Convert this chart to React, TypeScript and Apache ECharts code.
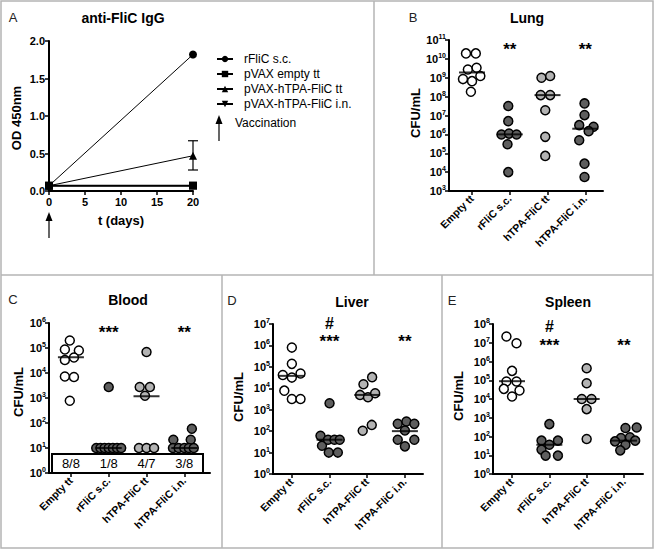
import React, { useEffect, useRef } from "react";
import * as echarts from "echarts";

const FONT = "'Liberation Sans', Arial, Helvetica, sans-serif";

// ---------- Panel A data ----------
const iggNames = ["rFliC s.c.", "pVAX empty tt", "pVAX-hTPA-FliC tt", "pVAX-hTPA-FliC i.n."];
const iggDays = [0, 20];
const iggRflic = [0.07, 1.82];
const iggEmpty = [0.07, 0.07];
const iggHtpaTt = [0.07, 0.47];
const iggHtpaIn = [0.07, 0.07];
const iggHtpaTtErr = [0.28, 0.67]; // at day 20
const iggYTicks = [0, 0.5, 1, 1.5, 2];
const iggXTicks = [0, 5, 10, 15, 20];

// ---------- Scatter panels (log10 CFU/mL) ----------
const categories = ["Empty tt", "rFliC s.c.", "hTPA-FliC tt", "hTPA-FliC i.n."];
const groupColors = ["#ffffff", "#5e5e5e", "#b3b3b3", "#5e5e5e"];

const lungLog = [
  [10.29, 10.29, 9.44, 9.53, 8.93, 8.82, 9.09, 8.26],
  [7.5, 6.7, 5.99, 6.04, 5.99, 5.48, 4.0],
  [9.0, 9.09, 8.08, 8.08, 7.28, 5.87, 4.86],
  [7.64, 7.02, 6.49, 6.4, 6.17, 5.69, 4.45, 3.74],
];
const lungJitter = [
  [-0.16, 0.1, -0.11, 0.12, -0.24, 0, 0.22, -0.03],
  [-0.04, -0.04, -0.22, -0.02, 0.18, -0.06, -0.04],
  [-0.16, 0.07, -0.18, 0.07, -0.06, -0.06, -0.06],
  [-0.02, -0.02, -0.16, 0.22, 0.09, -0.16, -0.02, -0.02],
];
const lungMedian = [9.28, 6.0, 8.08, 6.3];
const lungStars = ["", "**", "", "**"];

const bloodLog = [
  [5.3, 4.94, 4.9, 4.52, 4.62, 3.86, 3.84, 2.89],
  [3.44, 1, 1, 1, 1, 1, 1, 1],
  [4.84, 3.44, 3.44, 3.09, 1, 1, 1],
  [1.77, 1.33, 1.33, 1, 1, 1, 1, 1],
];
const bloodJitter = [
  [-0.03, -0.16, 0.21, -0.16, 0.08, -0.16, 0.08, -0.03],
  [0, -0.33, -0.22, -0.11, 0, 0.11, 0.22, 0.33],
  [0, -0.18, 0.09, -0.04, -0.2, 0, 0.2],
  [0.2, -0.29, 0.17, -0.3, -0.15, 0, 0.12, 0.25],
];
const bloodMedian = [4.63, 1, 3.07, 1];
const bloodStars = ["", "***", "", "**"];
const bloodFractions = ["8/8", "1/8", "4/7", "3/8"];

const liverLog = [
  [5.9, 5.14, 4.62, 4.69, 4.5, 3.89, 3.5, 3.5],
  [3.3, 1.78, 1.32, 1.6, 1.6, 1.6, 1.0, 1.0],
  [4.52, 4.19, 3.69, 3.58, 3.77, 2.02, 2.29],
  [2.34, 2.45, 2.34, 2.03, 1.6, 1.6, 1.29],
];
const liverJitter = [
  [0, 0, -0.24, 0.23, 0, -0.2, 0, 0.23],
  [0, -0.24, -0.2, -0.04, 0.13, 0.27, -0.02, 0.22],
  [0.13, -0.1, -0.19, 0.02, 0.21, -0.12, 0.12],
  [-0.19, 0.04, 0.25, 0, -0.19, 0.25, 0],
];
const liverMedian = [4.58, 1.6, 3.69, 2.0];
const liverStars = ["", "***", "", "**"];
const liverHash = ["", "#", "", ""];

const spleenLog = [
  [7.33, 6.97, 5.5, 4.93, 4.93, 4.54, 4.45, 4.13],
  [2.66, 1.78, 1.78, 1.56, 1.3, 0.98, 0.98],
  [5.64, 4.84, 4.0, 4.0, 3.46, 1.87],
  [2.45, 2.48, 1.92, 1.96, 1.78, 1.56, 1.74, 1.26],
];
const spleenJitter = [
  [-0.15, 0.12, 0, -0.15, 0.12, -0.22, 0.2, 0],
  [0, -0.21, 0.23, 0, -0.21, -0.1, 0.23],
  [0, 0, -0.13, 0.13, 0, 0],
  [0.04, 0.34, -0.08, 0.16, 0.3, 0.04, -0.24, -0.1],
];
const spleenMedian = [4.95, 1.56, 4.0, 1.78];
const spleenStars = ["", "***", "", "**"];
const spleenHash = ["", "#", "", ""];

// ---------- helpers ----------
const black = "#000";
const axisLineStyle = { color: black, width: 2 };
const tickStyle = { color: black, width: 1.5 };

type Panel = {
  grid: { left: number; top: number; width: number; height: number };
  xMin: number; xMax: number; yMin: number; yMax: number;
  logs: number[][]; jitter: number[][]; medians: number[];
  stars: string[]; starY: number;
  hash?: string[]; hashY?: number;
  fractions?: string[]; fractionY?: number;
};

function buildScatterPanel(p: Panel, gi: number) {
  const xAxis = {
    type: "value", gridIndex: gi, min: p.xMin, max: p.xMax,
    splitLine: { show: false },
    axisLine: { show: true, onZero: false, lineStyle: axisLineStyle },
    axisTick: { show: true, customValues: [0, 1, 2, 3], length: 4, lineStyle: tickStyle },
    axisLabel: {
      customValues: [0, 1, 2, 3],
      formatter: (v: number) => categories[Math.round(v)] ?? "",
      rotate: 45, fontSize: 10.5, fontWeight: "bold", color: black, fontFamily: FONT, margin: 6,
    },
  };
  const yAxis = {
    type: "value", gridIndex: gi, min: p.yMin, max: p.yMax, interval: 1,
    splitLine: { show: false },
    axisLine: { show: true, onZero: false, lineStyle: axisLineStyle },
    axisTick: { show: true, length: 4, lineStyle: tickStyle },
    axisLabel: {
      margin: 3,
      formatter: (v: number) => `{b|10}{s|${Math.round(v)}}`,
      rich: {
        b: { fontSize: 11, fontWeight: "bold", color: black, fontFamily: FONT, lineHeight: 14 },
        s: { fontSize: 7, fontWeight: "bold", color: black, fontFamily: FONT, lineHeight: 7, verticalAlign: "top" },
      },
    },
  };
  const series: any[] = [];
  p.logs.forEach((vals, i) => {
    series.push({
      type: "scatter", xAxisIndex: gi, yAxisIndex: gi, silent: true,
      data: vals.map((v, k) => [i + p.jitter[i][k], v]),
      symbol: "circle", symbolSize: 9,
      itemStyle: { color: groupColors[i], borderColor: black, borderWidth: 1.5, opacity: 1 },
      z: 3,
    });
  });
  series.push({
    type: "scatter", xAxisIndex: gi, yAxisIndex: gi, silent: true,
    data: p.medians.map((m, i) => [i, m]),
    symbol: "rect", symbolSize: [26, 2],
    itemStyle: { color: black }, z: 4,
  });
  const labelSeries = (texts: string[], y: number, fontSize: number, fontWeight: string) => ({
    type: "scatter", xAxisIndex: gi, yAxisIndex: gi, silent: true, clip: false,
    data: texts.map((t, i) => [i, y, t]).filter((d) => d[2] !== ""),
    symbolSize: 1, itemStyle: { color: "#ffffff", opacity: 1 },
    label: {
      show: true, position: "inside", formatter: (pp: any) => pp.data[2],
      fontSize, fontWeight, color: "#000000", fontFamily: FONT,
      textBorderWidth: 0, textBorderColor: "transparent", textShadowBlur: 0, opacity: 1,
    },
    z: 5,
  });
  series.push(labelSeries(p.stars, p.starY, 17, "bold"));
  if (p.hash && p.hashY !== undefined) series.push(labelSeries(p.hash, p.hashY, 16, "bold"));
  if (p.fractions && p.fractionY !== undefined) series.push(labelSeries(p.fractions, p.fractionY, 13, "normal"));
  return { xAxis, yAxis, series };
}

function buildOption() {
  const grids = [
    { left: 49, top: 41, width: 144, height: 150 },
    { left: 449, top: 40, width: 154, height: 151 },
    { left: 49, top: 323, width: 161, height: 150 },
    { left: 273, top: 324, width: 150, height: 150 },
    { left: 493, top: 324, width: 150, height: 150 },
  ];

  // Panel A
  const xA = {
    type: "value", gridIndex: 0, min: iggXTicks[0], max: iggXTicks[iggXTicks.length - 1], interval: 5,
    splitLine: { show: false },
    axisLine: { show: true, onZero: false, lineStyle: axisLineStyle },
    axisTick: { show: true, length: 4, lineStyle: tickStyle },
    axisLabel: { fontSize: 11, fontWeight: "bold", color: black, fontFamily: FONT, margin: 5 },
    name: "t (days)", nameLocation: "middle", nameGap: 23,
    nameTextStyle: { fontSize: 13, fontWeight: "bold", color: black, fontFamily: FONT },
  };
  const yA = {
    type: "value", gridIndex: 0, min: iggYTicks[0], max: iggYTicks[iggYTicks.length - 1], interval: 0.5,
    splitLine: { show: false },
    axisLine: { show: true, onZero: false, lineStyle: axisLineStyle },
    axisTick: { show: true, length: 4, lineStyle: tickStyle },
    axisLabel: { fontSize: 11, fontWeight: "bold", color: black, fontFamily: FONT, margin: 4, formatter: (v: number) => v.toFixed(1) },
  };
  const lineSeries = (name: string, vals: number[], symbol: string, size: number, width: number, rotate = 0) => ({
    type: "line", name, xAxisIndex: 0, yAxisIndex: 0, silent: true,
    data: iggDays.map((d, k) => [d, vals[k]]),
    symbol, symbolSize: size, symbolRotate: rotate, showSymbol: true,
    lineStyle: { color: black, width }, itemStyle: { color: black },
  });
  const seriesA: any[] = [
    lineSeries(iggNames[3], iggHtpaIn, "triangle", 8, 1, 180),
    lineSeries(iggNames[2], iggHtpaTt, "triangle", 8, 1),
    lineSeries(iggNames[0], iggRflic, "circle", 8, 1),
    lineSeries(iggNames[1], iggEmpty, "rect", 8, 2),
    {
      type: "custom", xAxisIndex: 0, yAxisIndex: 0, silent: true,
      data: [[iggDays[1], iggHtpaTtErr[0], iggHtpaTtErr[1]]],
      renderItem: (_params: any, api: any) => {
        const lo = api.coord([api.value(0), api.value(1)]);
        const hi = api.coord([api.value(0), api.value(2)]);
        const w = 5;
        const st = { stroke: black, lineWidth: 1.2 };
        return {
          type: "group",
          children: [
            { type: "line", shape: { x1: lo[0], y1: lo[1], x2: hi[0], y2: hi[1] }, style: st },
            { type: "line", shape: { x1: lo[0] - w, y1: lo[1], x2: lo[0] + w, y2: lo[1] }, style: st },
            { type: "line", shape: { x1: hi[0] - w, y1: hi[1], x2: hi[0] + w, y2: hi[1] }, style: st },
          ],
        };
      },
      z: 3,
    },
  ];

  const panels: Panel[] = [
    { grid: grids[1], xMin: -0.61, xMax: 3.47, yMin: 3, yMax: 11, logs: lungLog, jitter: lungJitter, medians: lungMedian, stars: lungStars, starY: 10.52 },
    { grid: grids[2], xMin: -0.58, xMax: 3.68, yMin: 0, yMax: 6, logs: bloodLog, jitter: bloodJitter, medians: bloodMedian, stars: bloodStars, starY: 5.64, fractions: bloodFractions, fractionY: 0.4 },
    { grid: grids[3], xMin: -0.5, xMax: 3.48, yMin: 0, yMax: 7, logs: liverLog, jitter: liverJitter, medians: liverMedian, stars: liverStars, starY: 6.2, hash: liverHash, hashY: 7.02 },
    { grid: grids[4], xMin: -0.51, xMax: 3.51, yMin: 0, yMax: 8, logs: spleenLog, jitter: spleenJitter, medians: spleenMedian, stars: spleenStars, starY: 6.83, hash: spleenHash, hashY: 7.88 },
  ];

  const xAxes: any[] = [xA];
  const yAxes: any[] = [yA];
  let series: any[] = [...seriesA];
  panels.forEach((p, k) => {
    const r = buildScatterPanel(p, k + 1);
    xAxes.push(r.xAxis);
    yAxes.push(r.yAxis);
    series = series.concat(r.series);
  });

  const txt = (text: string, x: number, y: number, size: number, weight = "bold", rotation = 0, align = "center", color = black) => ({
    type: "text", x, y, rotation, silent: true, z: 10,
    style: { text, fontSize: size, fontWeight: weight, fontFamily: FONT, fill: color, textAlign: align, textVerticalAlign: "middle" },
  });
  const border = "#b4b4b4";
  const ln = (x1: number, y1: number, x2: number, y2: number, stroke = border, lineWidth = 1.5) => ({
    type: "line", silent: true, shape: { x1, y1, x2, y2 }, style: { stroke, lineWidth },
  });

  const graphic: any[] = [
    { type: "rect", silent: true, shape: { x: 1, y: 1, width: 652, height: 547 }, style: { fill: "none", stroke: border, lineWidth: 1.5 } },
    ln(374, 1, 374, 275),
    ln(1, 275, 653, 275),
    ln(222, 275, 222, 548),
    ln(442, 275, 442, 548),
    // panel letters
    txt("A", 13, 17, 13, "normal", 0, "center", "#222"),
    txt("B", 413, 17, 13, "normal", 0, "center", "#222"),
    txt("C", 13, 299, 13, "normal", 0, "center", "#222"),
    txt("D", 232, 300, 13, "normal", 0, "center", "#222"),
    txt("E", 452, 300, 13, "normal", 0, "center", "#222"),
    // titles
    txt("anti-FliC IgG", 123, 18, 14),
    txt("Lung", 527, 18, 14),
    txt("Blood", 128, 300, 14),
    txt("Liver", 352, 302, 14),
    txt("Spleen", 568, 302, 14),
    // y axis names
    txt("OD 450nm", 16, 118, 13, "bold", Math.PI / 2),
    txt("CFU/mL", 415, 113, 13, "bold", Math.PI / 2),
    txt("CFU/mL", 18, 392, 13, "bold", Math.PI / 2),
    txt("CFU/mL", 238, 397, 13, "bold", Math.PI / 2),
    txt("CFU/mL", 458, 396, 13, "bold", Math.PI / 2),
    // vaccination arrow under axis
    ln(49, 238, 49, 216, black, 1.2),
    { type: "polygon", silent: true, shape: { points: [[45.5, 221], [52.5, 221], [49, 212]] }, style: { fill: black } },
    // legend vaccination entry
    ln(219, 141, 219, 120, black, 1.2),
    { type: "polygon", silent: true, shape: { points: [[215.5, 124], [222.5, 124], [219, 115]] }, style: { fill: black } },
    txt("Vaccination", 235, 123, 12, "normal", 0, "left"),
    // blood detection box
    { type: "rect", silent: true, z: 2, shape: { x: 52, y: 454, width: 151, height: 19 }, style: { fill: "none", stroke: black, lineWidth: 2 } },
  ];

  return {
    animation: false,
    backgroundColor: "#fff",
    textStyle: { fontFamily: FONT },
    grid: grids.map((g) => ({ ...g, containLabel: false, outerBoundsMode: "none" })),
    xAxis: xAxes,
    yAxis: yAxes,
    legend: {
      data: iggNames,
      orient: "vertical", left: 211, top: 48,
      itemWidth: 16, itemHeight: 8, itemGap: 3,
      selectedMode: false,
      textStyle: { fontSize: 12, color: black, fontFamily: FONT, padding: [0, 0, 0, 6] },
    },
    series,
    graphic,
  };
}

export default function App() {
  const ref = useRef<HTMLDivElement>(null);
  useEffect(() => {
    document.body.style.margin = "0";
    const chart = echarts.init(ref.current!, null, { renderer: "svg" });
    chart.setOption(buildOption() as any);
    return () => chart.dispose();
  }, []);
  return <div ref={ref} style={{ width: 655, height: 550, background: "#fff" }} />;
}
